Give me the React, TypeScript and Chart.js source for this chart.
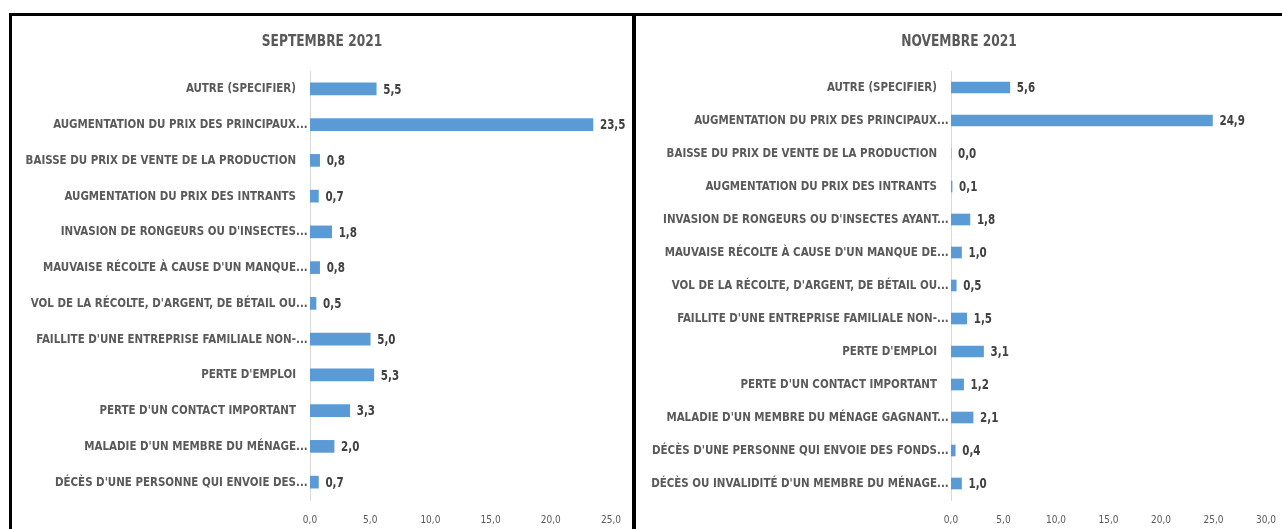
import React, { useEffect, useRef } from "react";
import { Chart, registerables } from "chart.js";

Chart.register(...registerables);

const FONT = "'Liberation Sans Narrow', 'DejaVu Sans Condensed', 'Arial Narrow', sans-serif";

const sepTitle = "SEPTEMBRE 2021";
const sepLabels = [
  "AUTRE (SPECIFIER)",
  "AUGMENTATION DU PRIX DES PRINCIPAUX...",
  "BAISSE DU PRIX DE VENTE DE LA PRODUCTION",
  "AUGMENTATION DU PRIX DES INTRANTS",
  "INVASION DE RONGEURS OU D'INSECTES...",
  "MAUVAISE RÉCOLTE À CAUSE D'UN MANQUE...",
  "VOL DE LA RÉCOLTE, D'ARGENT, DE BÉTAIL OU...",
  "FAILLITE D'UNE ENTREPRISE FAMILIALE NON-...",
  "PERTE D'EMPLOI",
  "PERTE D'UN CONTACT IMPORTANT",
  "MALADIE D'UN MEMBRE DU MÉNAGE...",
  "DÉCÈS D'UNE PERSONNE QUI ENVOIE DES...",
];
const sepValues = [5.5, 23.5, 0.8, 0.7, 1.8, 0.8, 0.5, 5.0, 5.3, 3.3, 2.0, 0.7];
const sepMax = 25;

const novTitle = "NOVEMBRE 2021";
const novLabels = [
  "AUTRE (SPECIFIER)",
  "AUGMENTATION DU PRIX DES PRINCIPAUX...",
  "BAISSE DU PRIX DE VENTE DE LA PRODUCTION",
  "AUGMENTATION DU PRIX DES INTRANTS",
  "INVASION DE RONGEURS OU D'INSECTES AYANT...",
  "MAUVAISE RÉCOLTE À CAUSE D'UN MANQUE DE...",
  "VOL DE LA RÉCOLTE, D'ARGENT, DE BÉTAIL OU...",
  "FAILLITE D'UNE ENTREPRISE FAMILIALE NON-...",
  "PERTE D'EMPLOI",
  "PERTE D'UN CONTACT IMPORTANT",
  "MALADIE D'UN MEMBRE DU MÉNAGE GAGNANT...",
  "DÉCÈS D'UNE PERSONNE QUI ENVOIE DES FONDS...",
  "DÉCÈS OU INVALIDITÉ D'UN MEMBRE DU MÉNAGE...",
];
const novValues = [5.6, 24.9, 0.0, 0.1, 1.8, 1.0, 0.5, 1.5, 3.1, 1.2, 2.1, 0.4, 1.0];
const novMax = 30;

const fmt = (v: number) => v.toFixed(1).replace(".", ",");

function squeezeText(
  ctx: CanvasRenderingContext2D,
  text: string,
  x: number,
  y: number,
  align: CanvasTextAlign,
  sx: number
) {
  ctx.save();
  ctx.translate(x, y);
  ctx.scale(sx, 1);
  ctx.textAlign = align;
  ctx.textBaseline = "middle";
  ctx.fillText(text, 0, 0);
  ctx.restore();
}

type PanelProps = {
  title: string;
  labels: string[];
  values: number[];
  max: number;
  width: number;
  height: number;
  axisWidth: number;
  padRight: number;
  barThickness: number;
};

function Panel({ title, labels, values, max, width, height, axisWidth, padRight, barThickness }: PanelProps) {
  const ref = useRef<HTMLCanvasElement>(null);
  useEffect(() => {
    if (!ref.current) return;
    const textPlugin = {
      id: "panelText",
      afterDraw(chart: any) {
        const ctx = chart.ctx as CanvasRenderingContext2D;
        ctx.save();
        ctx.font = `bold 16px ${FONT}`;
        ctx.fillStyle = "#595959";
        squeezeText(ctx, title, chart.width / 2, 26, "center", 0.85);
        const yScale = chart.scales.y;
        const left = chart.chartArea.left;
        ctx.font = `bold 13px ${FONT}`;
        ctx.fillStyle = "#595959";
        const sx = 0.88;
        const dotsW = ctx.measureText("...").width * sx;
        labels.forEach((lab, i) => {
          const y = yScale.getPixelForTick(i);
          const xEnd = left - 14 + (lab.endsWith("...") ? dotsW : 0);
          squeezeText(ctx, lab, xEnd, y, "right", sx);
        });
        ctx.restore();
      },
      afterDatasetsDraw(chart: any) {
        const ctx = chart.ctx as CanvasRenderingContext2D;
        const meta = chart.getDatasetMeta(0);
        ctx.save();
        ctx.font = `bold 14px ${FONT}`;
        ctx.fillStyle = "#404040";
        meta.data.forEach((bar: any, i: number) => {
          squeezeText(ctx, fmt(values[i]), bar.x + 7, bar.y + 1, "left", 0.82);
        });
        ctx.restore();
      },
    };
    const chart = new Chart(ref.current, {
      type: "bar",
      data: {
        labels,
        datasets: [
          {
            data: values,
            backgroundColor: "#5b9bd5",
            borderWidth: 0,
            barThickness,
          },
        ],
      },
      options: {
        indexAxis: "y",
        responsive: false,
        animation: false,
        maintainAspectRatio: false,
        layout: { padding: { top: 55, right: padRight, bottom: 0, left: 0 } },
        plugins: {
          legend: { display: false },
          title: { display: false },
          tooltip: { enabled: false },
        },
        scales: {
          x: {
            min: 0,
            max,
            grid: { display: false },
            border: { display: false },
            ticks: {
              stepSize: 5,
              padding: 6,
              color: "#595959",
              font: { family: FONT, size: 10 },
              callback: (v: any) => fmt(Number(v)),
            },
            afterFit: (s: any) => {
              s.height = 29;
            },
          },
          y: {
            grid: { display: false, drawTicks: false },
            border: { display: true, color: "#d9d9d9", width: 1 },
            ticks: { display: false, autoSkip: false },
            afterFit: (s: any) => {
              s.width = axisWidth;
            },
          },
        },
      },
      plugins: [textPlugin],
    } as any);
    return () => chart.destroy();
  }, []);
  return <canvas ref={ref} width={width} height={height} style={{ display: "block", width, height }} />;
}

export default function App() {
  return (
    <div
      style={{
        position: "absolute",
        left: 0,
        top: 0,
        width: 1282,
        height: 529,
        overflow: "hidden",
        background: "#ffffff",
      }}
    >
      <div
        style={{
          position: "absolute",
          left: 9,
          top: 13,
          width: 620,
          height: 540,
          borderTop: "3px solid #000",
          borderLeft: "3px solid #000",
          borderRight: "4px solid #000",
          background: "#fff",
        }}
      >
        <Panel
          title={sepTitle}
          labels={sepLabels}
          values={sepValues}
          max={sepMax}
          width={620}
          height={513}
          axisWidth={298}
          padRight={21}
          barThickness={12}
        />
      </div>
      <div
        style={{
          position: "absolute",
          left: 636,
          top: 13,
          width: 700,
          height: 540,
          borderTop: "3px solid #000",
          background: "#fff",
        }}
      >
        <Panel
          title={novTitle}
          labels={novLabels}
          values={novValues}
          max={novMax}
          width={646}
          height={513}
          axisWidth={315}
          padRight={13}
          barThickness={11}
        />
      </div>
    </div>
  );
}
